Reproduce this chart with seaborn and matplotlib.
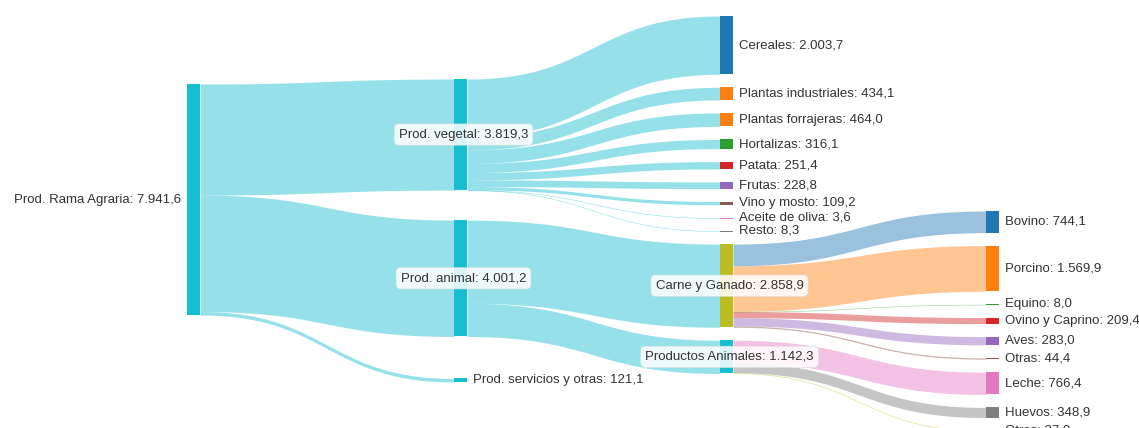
#!/usr/bin/env python3
"""
Sankey of the Spanish agrarian production (Prod. Rama Agraria) drawn with
matplotlib patches on top of a seaborn theme / palette.
"""

import numpy as np
import matplotlib.pyplot as plt
import seaborn as sns

sns.set_theme(style='white')
plt.rcParams['font.family'] = ['Liberation Sans', 'DejaVu Sans']

# ---- data -------------------------------------------------------------
node_names = [
    'Prod. Rama Agraria', 'Prod. vegetal', 'Prod. animal', 'Prod. servicios y otras',
    'Cereales', 'Plantas industriales', 'Plantas forrajeras', 'Hortalizas', 'Patata',
    'Frutas', 'Vino y mosto', 'Aceite de oliva', 'Resto',
    'Carne y Ganado', 'Productos Animales',
    'Bovino', 'Porcino', 'Equino', 'Ovino y Caprino', 'Aves', 'Otras',
    'Leche', 'Huevos', 'Otras',
]
link_source = [0, 0, 0,
               1, 1, 1, 1, 1, 1, 1, 1, 1,
               2, 2,
               13, 13, 13, 13, 13, 13,
               14, 14, 14]
link_target = [1, 2, 3,
               4, 5, 6, 7, 8, 9, 10, 11, 12,
               13, 14,
               15, 16, 17, 18, 19, 20,
               21, 22, 23]
link_value = [3819.3, 4001.2, 121.1,
              2003.7, 434.1, 464.0, 316.1, 251.4, 228.8, 109.2, 3.6, 8.3,
              2858.9, 1142.3,
              744.1, 1569.9, 8.0, 209.4, 283.0, 44.4,
              766.4, 348.9, 27.0]

# ---- style / layout (pixels, figure is 1139 x 428) ---------------------
tab = sns.color_palette('tab10')
node_color_idx = [9, 9, 9, 9,
                  0, 1, 1, 2, 3, 4, 5, 6, 7,
                  8, 9,
                  0, 1, 2, 3, 4, 5, 6, 7, 8]
boxed_labels = {1, 2, 13, 14}
col_x = [187, 454, 720, 986]
col_top = [84, 79, 16, 211]
col_gaps = {0: [], 1: [30, 42], 2: 13, 3: 13}
node_w = 13
px_per_unit = 231 / 7941.6
link_alpha = 0.45
text_color = '#333333'


def fmt_es(v):
    s = f'{v:,.1f}'
    return s.replace(',', 'X').replace('.', ',').replace('X', '.')


n = len(node_names)
# node value = max(inflow, outflow)
inflow = np.zeros(n)
outflow = np.zeros(n)
for s, t, v in zip(link_source, link_target, link_value):
    outflow[s] += v
    inflow[t] += v
node_value = np.maximum(inflow, outflow)

# depth of every node
depth = [0] * n
changed = True
while changed:
    changed = False
    for s, t in zip(link_source, link_target):
        if depth[t] < depth[s] + 1:
            depth[t] = depth[s] + 1
            changed = True

# stack nodes in every column
node_top = np.zeros(n)
node_h = node_value * px_per_unit
for c in range(4):
    members = [i for i in range(n) if depth[i] == c]
    y = col_top[c]
    gaps = col_gaps[c]
    for k, i in enumerate(members):
        node_top[i] = y
        gap = gaps[k] if isinstance(gaps, list) and k < len(gaps) else (gaps if not isinstance(gaps, list) else 0)
        y += node_h[i] + gap

fig = plt.figure(figsize=(11.39, 4.28), dpi=100)
ax = fig.add_axes([0, 0, 1, 1])
ax.set_xlim(0, 1139)
ax.set_ylim(428, 0)
ax.axis('off')

# ---- links ------------------------------------------------------------
order = range(len(link_value))
out_off = {i: node_top[i] for i in range(n)}
in_off = {i: node_top[i] for i in range(n)}
out_start = {}
in_start = {}
for i in range(n):
    outs = sorted([l for l in order if link_source[l] == i], key=lambda l: node_top[link_target[l]])
    for l in outs:
        out_start[l] = out_off[i]
        out_off[i] += link_value[l] * px_per_unit
    ins = sorted([l for l in order if link_target[l] == i], key=lambda l: node_top[link_source[l]])
    for l in ins:
        in_start[l] = in_off[i]
        in_off[i] += link_value[l] * px_per_unit

s_par = np.linspace(0, 1, 80)
for l in order:
    s, t = link_source[l], link_target[l]
    x0 = col_x[depth[s]] + node_w
    x1 = col_x[depth[t]]
    w = link_value[l] * px_per_unit
    xs = x0 + (x1 - x0) * (1.5 * s_par * (1 - s_par) + s_par ** 3)
    ease = 3 * s_par ** 2 - 2 * s_par ** 3
    ytop = out_start[l] + (in_start[l] - out_start[l]) * ease
    color = tab[node_color_idx[s]] if depth[s] < 2 else tab[node_color_idx[t]]
    ax.fill_between(xs, ytop, ytop + max(w, 0.6), color=color, alpha=link_alpha, lw=0)

# ---- nodes and labels --------------------------------------------------
for i in range(n):
    x = col_x[depth[i]]
    h = max(node_h[i], 0.8)
    ax.add_patch(plt.Rectangle((x, node_top[i]), node_w, h,
                               facecolor=tab[node_color_idx[i]], edgecolor='none'))
    label = f'{node_names[i]}: {fmt_es(node_value[i])}'
    yc = node_top[i] + node_h[i] / 2
    if i in boxed_labels:
        ax.text(x + node_w / 2 + 3, yc, label, ha='center', va='center', fontsize=9.5,
                color=text_color,
                bbox=dict(boxstyle='round,pad=0.35', facecolor='white', alpha=0.85,
                          edgecolor='#e0e0e0', lw=0.5))
    elif depth[i] == 0:
        ax.text(x - 6, yc, label, ha='right', va='center', fontsize=9.5, color=text_color)
    else:
        ax.text(x + node_w + 6, yc, label, ha='left', va='center', fontsize=9.5, color=text_color)

fig.savefig('out.png', dpi=100)
